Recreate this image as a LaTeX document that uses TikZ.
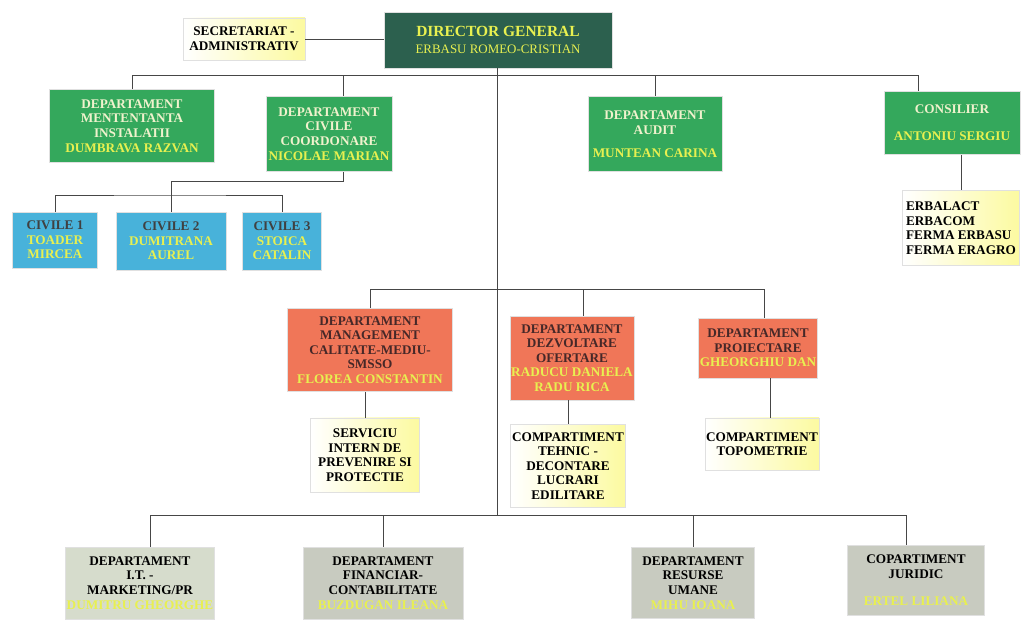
\documentclass[tikz,border=0pt]{standalone}
\usepackage{fontspec}
\setmainfont{Liberation Serif}
\usepackage{xcolor}
\usetikzlibrary{positioning,calc}

\definecolor{deptgreen}{RGB}{52,168,92}
\definecolor{dirgreen}{RGB}{44,96,78}
\definecolor{civblue}{RGB}{72,178,218}
\definecolor{mgmtorange}{RGB}{240,118,88}
\definecolor{paleyellow}{RGB}{252,250,160}
\definecolor{supgrey}{RGB}{214,220,204}
\definecolor{supgreyb}{RGB}{200,203,192}
\definecolor{nameyellow}{RGB}{232,240,80}
\definecolor{titlecream}{RGB}{240,242,205}
\definecolor{titledark}{RGB}{70,40,40}
\definecolor{linegrey}{RGB}{70,70,70}

\newcommand{\nm}[1]{{\color{nameyellow}#1}}

\begin{document}
\begin{tikzpicture}[
      x=0.025cm, y=-0.025cm,
      box/.style={rectangle, align=center, inner sep=1pt, draw=black!12,
                  font=\fontsize{9.4}{10.4}\selectfont\bfseries},
      deptbox/.style={box, fill=deptgreen, text=titlecream},
      civbox/.style={box, fill=civblue, text=black!75},
      orgbox/.style={box, fill=mgmtorange, text=titledark},
      notebox/.style={box, left color=white, right color=paleyellow, text=black},
      supbox/.style={box, fill=supgrey, text=black},
      link/.style={draw=linegrey, line width=0.5pt},
    ]
    \useasboundingbox (0,0) rectangle (1027,619);

    % top
    \node[notebox, minimum width=3.05cm, minimum height=1.05cm] (secr) at (244,39) {SECRETARIAT -\\ADMINISTRATIV};
    \node[box, fill=dirgreen, text=nameyellow, minimum width=5.7cm, minimum height=1.4cm, font=\bfseries] (dir) at (498,40)
      {{\fontsize{11}{12}\selectfont DIRECTOR GENERAL}\\{\fontsize{9.2}{10}\selectfont\mdseries ERBASU ROMEO-CRISTIAN}};

    % first level
    \node[deptbox, minimum width=4.125cm, minimum height=1.825cm] (ment) at (132,126) {DEPARTAMENT\\MENTENTANTA\\INSTALATII\\\nm{DUMBRAVA RAZVAN}};
    \node[deptbox, minimum width=3.15cm, minimum height=1.875cm] (civ) at (329,134) {DEPARTAMENT\\CIVILE\\COORDONARE\\\nm{NICOLAE MARIAN}};
    \node[deptbox, minimum width=3.35cm, minimum height=1.875cm] (audit) at (655,134) {DEPARTAMENT\\AUDIT\\[6pt]\nm{MUNTEAN CARINA}};
    \node[deptbox, minimum width=3.4cm, minimum height=1.575cm] (cons) at (952,123) {CONSILIER\\[9pt]\nm{ANTONIU SERGIU}};
    \node[notebox, align=left, minimum width=2.925cm, minimum height=1.875cm] (firme) at (961,228) {ERBALACT\\ERBACOM\\FERMA ERBASU\\FERMA ERAGRO};

    % civile
    \node[civbox, minimum width=2.125cm, minimum height=1.4cm] (civa) at (55,240) {CIVILE 1\\\nm{TOADER}\\\nm{MIRCEA}};
    \node[civbox, minimum width=2.75cm, minimum height=1.45cm] (civb) at (171,241) {CIVILE 2\\\nm{DUMITRANA}\\\nm{AUREL}};
    \node[civbox, minimum width=1.975cm, minimum height=1.45cm] (civc) at (282,241) {CIVILE 3\\\nm{STOICA}\\\nm{CATALIN}};

    % second level
    \node[orgbox, minimum width=4.125cm, minimum height=2.075cm] (mgmt) at (370,350) {DEPARTAMENT\\MANAGEMENT\\CALITATE-MEDIU-\\SMSSO\\\nm{FLOREA CONSTANTIN}};
    \node[orgbox, minimum width=3.05cm, minimum height=2.1cm] (dezv) at (572,358) {DEPARTAMENT\\DEZVOLTARE\\OFERTARE\\\nm{RADUCU DANIELA}\\\nm{RADU RICA}};
    \node[orgbox, minimum width=2.975cm, minimum height=1.5cm] (proi) at (758,348) {DEPARTAMENT\\PROIECTARE\\\nm{GHEORGHIU DAN}};
    \node[notebox, minimum width=2.725cm, minimum height=1.85cm] (serv) at (365,455) {SERVICIU\\INTERN DE\\PREVENIRE SI\\PROTECTIE};
    \node[notebox, minimum width=2.75cm, minimum height=2.075cm] (teh) at (568,466) {COMPARTIMENT\\TEHNIC -\\DECONTARE\\LUCRARI\\EDILITARE};
    \node[notebox, minimum width=2.75cm, minimum height=1.3cm] (topo) at (762,444) {COMPARTIMENT\\TOPOMETRIE};

    % bottom level
    \node[supbox, minimum width=3.6cm, minimum height=1.8cm] (it) at (140,583) {DEPARTAMENT\\I.T. -\\MARKETING/PR\\\nm{DUMITRU GHEORGHE}};
    \node[supbox, fill=supgreyb, minimum width=4.0cm, minimum height=1.8cm] (fin) at (383,583) {DEPARTAMENT\\FINANCIAR-\\CONTABILITATE\\\nm{BUZDUGAN ILEANA}};
    \node[supbox, fill=supgreyb, minimum width=3.075cm, minimum height=1.775cm] (res) at (693,583) {DEPARTAMENT\\RESURSE\\UMANE\\\nm{MIHU IOANA}};
    \node[supbox, fill=supgreyb, minimum width=3.425cm, minimum height=1.75cm] (jur) at (916,580) {COPARTIMENT\\JURIDIC\\[9pt]\nm{ERTEL LILIANA}};

    % bus levels
    \coordinate (busa) at (497,75);
    \coordinate (busb) at (497,289);
    \coordinate (busc) at (497,515);
    \coordinate (cbus) at (171,181);
    \coordinate (cbusb) at (171,195);

    \draw[link] (secr.east) -- (secr.east -| dir.west);
    \draw[link] (dir.south -| busc) -- (busc);
    \draw[link] (busa) -| (ment.north);
    \draw[link] (busa) -| ([xshift=0.35cm]civ.north);
    \draw[link] (busa) -| (audit.north);
    \draw[link] (busa) -| ([xshift=-0.85cm]cons.north);
    \draw[link] (firme.north |- cons.south) -- (firme.north);

    \draw[link] ([xshift=0.35cm]civ.south) |- (cbus) -- (civb.north);
    \draw[link] (civa.north) |- (cbusb) -| (civc.north);

    \draw[link] (busb) -| (mgmt.north);
    \draw[link] (busb) -| ([xshift=0.28cm]dezv.north);
    \draw[link] (busb) -| ([xshift=0.17cm]proi.north);
    \draw[link] (mgmt.south -| serv.north) -- (serv.north);
    \draw[link] (teh.north |- dezv.south) -- (teh.north);
    \draw[link] ([xshift=0.2cm]topo.north |- proi.south) -- ([xshift=0.2cm]topo.north);

    \draw[link] (busc) -| ([xshift=0.25cm]it.north);
    \draw[link] (busc) -| (fin.north);
    \draw[link] (busc) -| (res.north);
    \draw[link] (busc) -| ([xshift=-0.25cm]jur.north);
  \end{tikzpicture}
\end{document}
